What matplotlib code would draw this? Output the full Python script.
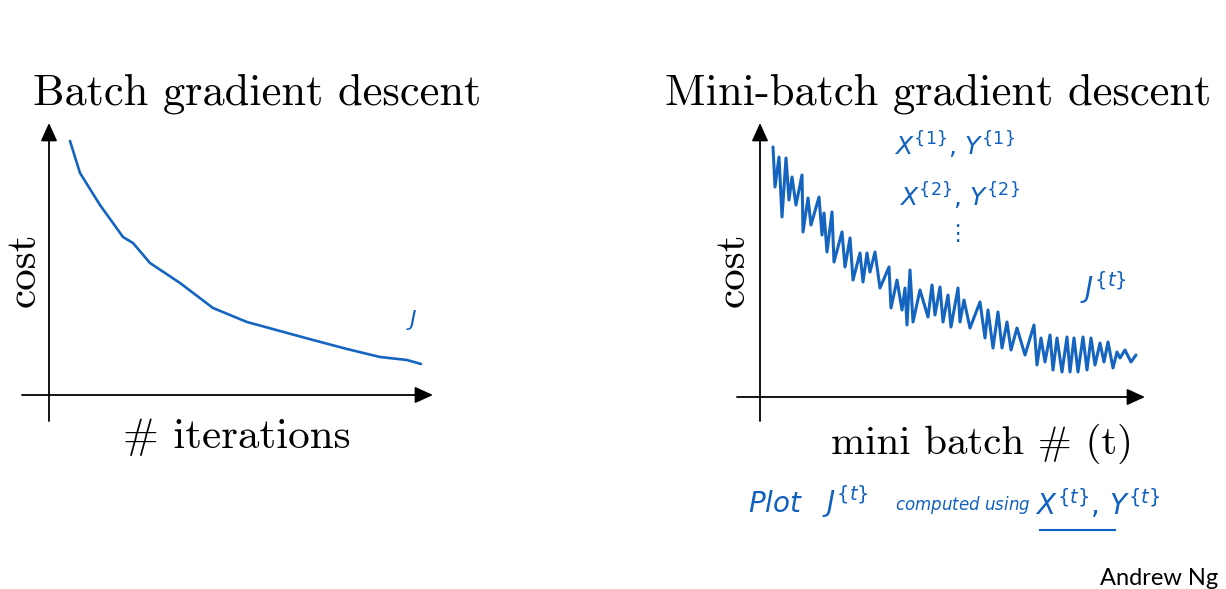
import matplotlib.pyplot as plt

# Batch gradient descent: cost vs iterations
batch_iter = [21, 31, 51, 74, 84, 101, 131, 164, 198, 231, 264, 298, 331, 358, 372]
batch_cost = [254, 222, 190, 158, 152, 132, 112, 87, 73, 64, 55, 46, 38, 35, 31]

# Mini-batch gradient descent: noisy cost vs mini batch #
mb_t = [13, 15, 19, 22, 26, 29, 32, 36, 42, 43, 48, 51, 59, 62, 64, 67, 72, 74,
        82, 85, 90, 93, 100, 103, 107, 110, 115, 120, 129, 131, 137, 142, 145, 147,
        150, 153, 160, 168, 172, 175, 180, 183, 188, 191, 198, 200, 204, 210, 220,
        225, 228, 233, 238, 242, 247, 251, 257, 265, 274, 277, 281, 285, 290, 293,
        297, 302, 307, 310, 314, 318, 323, 327, 331, 335, 340, 344, 348, 353, 357,
        360, 365, 371, 376]
mb_cost = [250, 210, 240, 180, 239, 197, 220, 192, 222, 165, 199, 172, 200, 162,
           184, 145, 185, 135, 165, 130, 159, 117, 144, 115, 144, 125, 145, 109, 130,
           89, 117, 87, 109, 72, 127, 75, 107, 80, 112, 82, 110, 75, 102, 70, 109,
           75, 97, 69, 95, 59, 87, 49, 85, 49, 75, 47, 69, 42, 72, 32, 59, 35, 62,
           27, 59, 25, 60, 25, 59, 25, 60, 27, 59, 32, 54, 35, 55, 29, 45, 39, 47,
           35, 42]

blue = '#1565C0'
hand = '#1060C0'

fig = plt.figure(figsize=(12.26, 5.89), dpi=100)
W, H = 1226, 589


def place(x0, x1, y0, y1):
    # axes spanning pixel box (x0..x1, y0 top..y1 bottom)
    return fig.add_axes([x0 / W, 1 - y1 / H, (x1 - x0) / W, (y1 - y0) / H])


def draw_axes(ax, ox, oy, x0, x1, y0, y1, xtip, ytip, xstart, ybot):
    ax.set_xlim(x0 - ox, x1 - ox)
    ax.set_ylim(oy - y1, oy - y0)
    ax.axis('off')
    style = '-|>,head_length=0.55,head_width=0.25'
    ax.annotate('', xy=(xtip - ox, 0), xytext=(xstart - ox, 0),
                arrowprops=dict(arrowstyle=style, mutation_scale=20, lw=1.3,
                                color='black', shrinkA=0, shrinkB=0))
    ax.annotate('', xy=(0, oy - ytip), xytext=(0, oy - ybot),
                arrowprops=dict(arrowstyle=style, mutation_scale=20, lw=1.3,
                                color='black', shrinkA=0, shrinkB=0))


ax1 = place(0, 440, 110, 430)
draw_axes(ax1, 49, 395, 0, 440, 110, 430, 433, 123, 22, 421)
ax1.plot(batch_iter, batch_cost, color=blue, lw=1.9, solid_capstyle='round')

ax2 = place(700, 1160, 110, 430)
draw_axes(ax2, 760, 397, 700, 1160, 110, 430, 1145, 123, 737, 421)
ax2.plot(mb_t, mb_cost, color=blue, lw=2.2, solid_joinstyle='round',
         solid_capstyle='round')

# overlay in pixel coordinates for the slide text
ov = fig.add_axes([0, 0, 1, 1])
ov.set_xlim(0, W)
ov.set_ylim(H, 0)
ov.axis('off')

serif = dict(family='cmr10', color='black')
ov.text(33, 105, 'Batch gradient descent', fontsize=32, ha='left', va='baseline', **serif)
ov.text(665, 105, 'Mini-batch gradient descent', fontsize=32, ha='left', va='baseline', **serif)
ov.text(24, 270, 'cost', fontsize=31, rotation=90, ha='center', va='center', **serif)
ov.text(733, 270, 'cost', fontsize=31, rotation=90, ha='center', va='center', **serif)
ov.text(237, 437, '# iterations', fontsize=31, ha='center', va='center', **serif)
ov.text(982, 444, 'mini batch # (t)', fontsize=29.5, ha='center', va='center', **serif)

ov.text(1218, 585, 'Andrew Ng', fontsize=17, family='Lato', ha='right', va='baseline',
        color='black')

# handwritten notes
plt.rcParams['mathtext.fontset'] = 'dejavusans'
ov.text(412, 320, r'$J$', fontsize=16, color=hand, ha='center', va='center')
ov.text(955, 145, r'$X^{\{1\}},\,Y^{\{1\}}$', fontsize=18, color=hand, ha='center', va='center')
ov.text(960, 196, r'$X^{\{2\}},\,Y^{\{2\}}$', fontsize=18, color=hand, ha='center', va='center')
ov.text(957, 234, '\u22ee', fontsize=16, color=hand, ha='center', va='center')
ov.text(1103, 288, r'$J^{\{t\}}$', fontsize=20, color=hand, ha='center', va='center')

ov.text(748, 512, r'$Plot$', fontsize=20, color=hand, ha='left', va='baseline')
ov.text(822, 512, r'$J^{\{t\}}$', fontsize=20, color=hand, ha='left', va='baseline')
ov.text(895, 510, r'$computed\ using$', fontsize=12, color=hand, ha='left', va='baseline')
ov.text(1035, 515, r'$X^{\{t\}},\,Y^{\{t\}}$', fontsize=20, color=hand, ha='left', va='baseline')
ov.plot([1040, 1115], [530, 530], color=hand, lw=1.5)

fig.savefig('out.png', dpi=100)
